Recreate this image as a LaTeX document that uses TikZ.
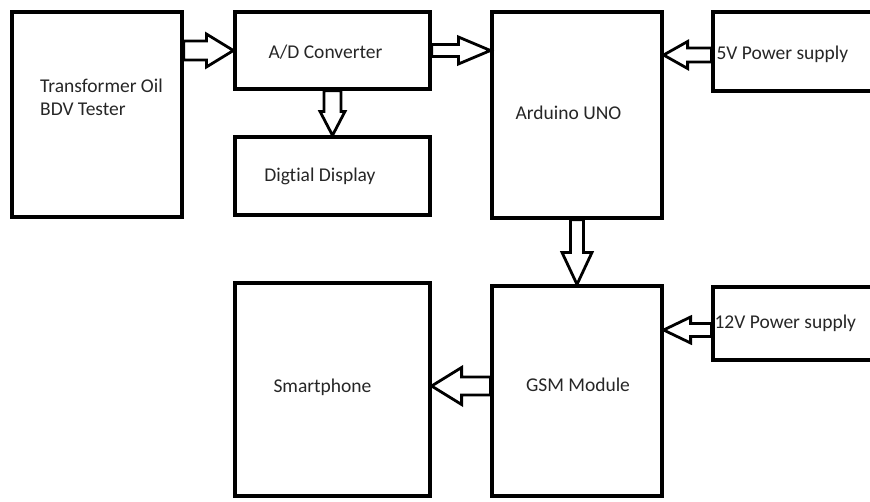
\documentclass[tikz,border=0pt]{standalone}
\usepackage{fontspec}
\setmainfont{Carlito}[Ligatures=NoCommon]
\usetikzlibrary{calc}

% hollow block arrow: from, to, shaft half width, head half width, head length
\newcommand{\blockarr}[5]{%
	\draw[arrowline] ($(#1)!#3!90:(#2)$) -- ($(#2)!#5!(#1)!#3!-90:(#1)$)
		-- ($(#2)!#5!(#1)!#4!-90:(#1)$) -- (#2) -- ($(#2)!#5!(#1)!#4!90:(#1)$)
		-- ($(#2)!#5!(#1)!#3!90:(#1)$) -- ($(#1)!#3!-90:(#2)$) -- cycle;}

\begin{document}
\begin{tikzpicture}[x=1pt,y=-1pt,
		font=\fontsize{19.5}{23}\selectfont,
		block/.style={draw,line width=3.2pt,inner sep=0pt},
		arrowline/.style={draw,fill=white,line width=2.8pt,line join=miter},
		every label/.style={inner sep=0pt,text=black!85}]
				\useasboundingbox (0,0) rectangle (870,501);
				\clip (0,0) rectangle (870,501);
				
				% Blocks
				\node[block,minimum width=170,minimum height=205,
					label={[align=left,xshift=4.5pt,yshift=17.5pt]center:Transformer Oil\\BDV Tester}] (tester) at (97,114.5) {};
				\node[block,minimum width=195,minimum height=77,
					label={[xshift=-7pt,yshift=-1.5pt]center:A/D Converter}] (ad) at (332.5,50.5) {};
				\node[block,minimum width=195,minimum height=78,
					label={[xshift=-12.5pt]center:Digtial Display}] (dd) at (332.5,176) {};
				\node[block,minimum width=170,minimum height=206,
					label={[xshift=-8.5pt,yshift=2pt]center:Arduino UNO}] (arduino) at (577,115) {};
				\node[block,minimum width=172,minimum height=79,
					label={[anchor=west,xshift=5pt,yshift=-3pt]west:5V Power supply}] (psu5) at (799,51.5) {};
				\node[block,minimum width=172,minimum height=73,
					label={[anchor=west,xshift=3pt]west:12V Power supply}] (psu12) at (799,323.5) {};
				\node[block,minimum width=170,minimum height=210,
					label={[xshift=1pt,yshift=6pt]center:GSM Module}] (gsm) at (577,391) {};
				\node[block,minimum width=195,minimum height=213,
					label={[xshift=-10pt,yshift=2.5pt]center:Smartphone}] (phone) at (332.5,389.5) {};
				
				% Arrows
				\coordinate (a1) at (tester.east |- ad.west);
				\blockarr{a1}{ad.west}{9.5pt}{16.5pt}{27pt}
				\coordinate (a2) at (arduino.west |- ad.east);
				\blockarr{ad.east}{a2}{6pt}{13.5pt}{32pt}
				\coordinate (a3) at (ad.south |- dd.north);
				\blockarr{ad.south}{a3}{8.5pt}{12.5pt}{24pt}
				\blockarr{arduino.south}{gsm.north}{6.5pt}{15pt}{32pt}
				\coordinate (a5) at ([yshift=5pt]gsm.west);
				\coordinate (a5t) at (phone.east |- a5);
				\blockarr{a5}{a5t}{9pt}{18.5pt}{30pt}
				\coordinate (a6) at ([yshift=-3.5pt]psu5.west);
				\coordinate (a6t) at (arduino.east |- a6);
				\blockarr{a6}{a6t}{7pt}{13.5pt}{24pt}
				\coordinate (a7) at ([yshift=-6.5pt]psu12.west);
				\coordinate (a7t) at (gsm.east |- a7);
				\blockarr{a7}{a7t}{6.5pt}{13pt}{27pt}
\end{tikzpicture}
\end{document}
